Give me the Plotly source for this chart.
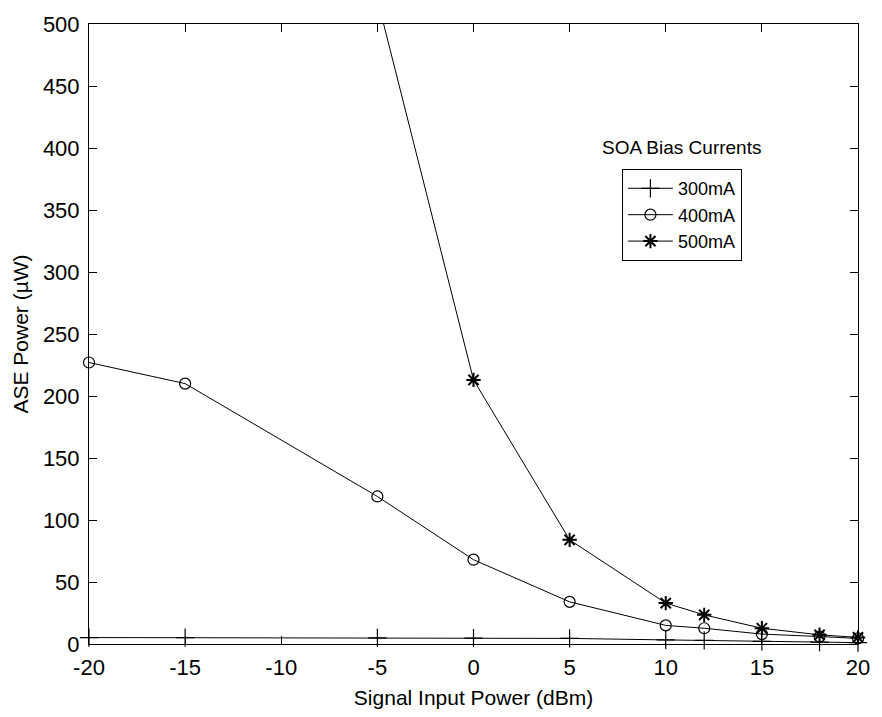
import plotly.graph_objects as go

# Signal input power (dBm) at which each bias current was measured
x_300 = [-20, -15, -5, 0, 5, 10, 12, 15, 18, 20]
x_400 = [-20, -15, -5, 0, 5, 10, 12, 15, 18, 20]
x_500 = [-5, 0, 5, 10, 12, 15, 18, 20]

# ASE power (uW)
ase_300 = [5.2, 5.1, 5.0, 4.8, 4.5, 3.3, 2.9, 2.1, 1.5, 1.1]
ase_400 = [227, 210, 119, 68, 34, 15, 12.7, 8, 6, 4.5]
ase_500 = [520, 213, 84, 33, 23.5, 12.7, 7.4, 5.3]

x_ticks = [-20, -15, -10, -5, 0, 5, 10, 15, 20]
y_ticks = [0, 50, 100, 150, 200, 250, 300, 350, 400, 450, 500]

FONT = "Liberation Sans, Arial, sans-serif"

fig = go.Figure()
line = dict(color="black", width=1)
fig.add_trace(go.Scatter(
    x=x_300, y=ase_300, name="300mA", mode="lines+markers", line=line,
    marker=dict(symbol="cross-thin-open", size=13, color="black",
                line=dict(color="black", width=1.2)),
    cliponaxis=False))
fig.add_trace(go.Scatter(
    x=x_400, y=ase_400, name="400mA", mode="lines+markers", line=line,
    marker=dict(symbol="circle-open", size=11, color="black",
                line=dict(color="black", width=1.2)),
    cliponaxis=False))
fig.add_trace(go.Scatter(
    x=x_500, y=ase_500, name="500mA", mode="lines+markers", line=line,
    marker=dict(symbol="asterisk-open", size=12, color="black",
                line=dict(color="black", width=2)),
    cliponaxis=False))

axis_common = dict(
    showline=True, linecolor="black", linewidth=1, mirror="ticks",
    ticks="inside", ticklen=8, tickwidth=1, tickcolor="black",
    showgrid=False, zeroline=False,
    tickfont=dict(family=FONT, size=22, color="black"),
)

fig.update_xaxes(
    range=[-20, 20], tickvals=x_ticks, ticktext=[str(v) for v in x_ticks],
    title=dict(text="Signal Input Power (dBm)",
               font=dict(family=FONT, size=21, color="black"), standoff=10),
    ticklabelstandoff=4,
    **axis_common)
fig.update_yaxes(
    range=[0, 500], tickvals=y_ticks, ticktext=[str(v) for v in y_ticks],
    title=dict(text="ASE Power (µW)",
               font=dict(family=FONT, size=21, color="black"), standoff=8),
    ticklabelstandoff=4,
    **axis_common)

fig.add_annotation(
    x=0.770, y=0.800, xref="paper", yref="paper", text="SOA Bias Currents",
    showarrow=False, font=dict(family=FONT, size=19, color="black"),
    xanchor="center", yanchor="middle")

fig.update_layout(
    width=882, height=717,
    margin=dict(l=89, r=14, t=20, b=68),
    paper_bgcolor="white", plot_bgcolor="white",
    font=dict(family=FONT, color="black"),
    legend=dict(
        x=0.693, y=0.766, xanchor="left", yanchor="top",
        bordercolor="black", borderwidth=1, bgcolor="white",
        font=dict(family=FONT, size=18, color="black"),
        itemwidth=45, tracegroupgap=0,
    ),
)

fig.write_html("out.html")
